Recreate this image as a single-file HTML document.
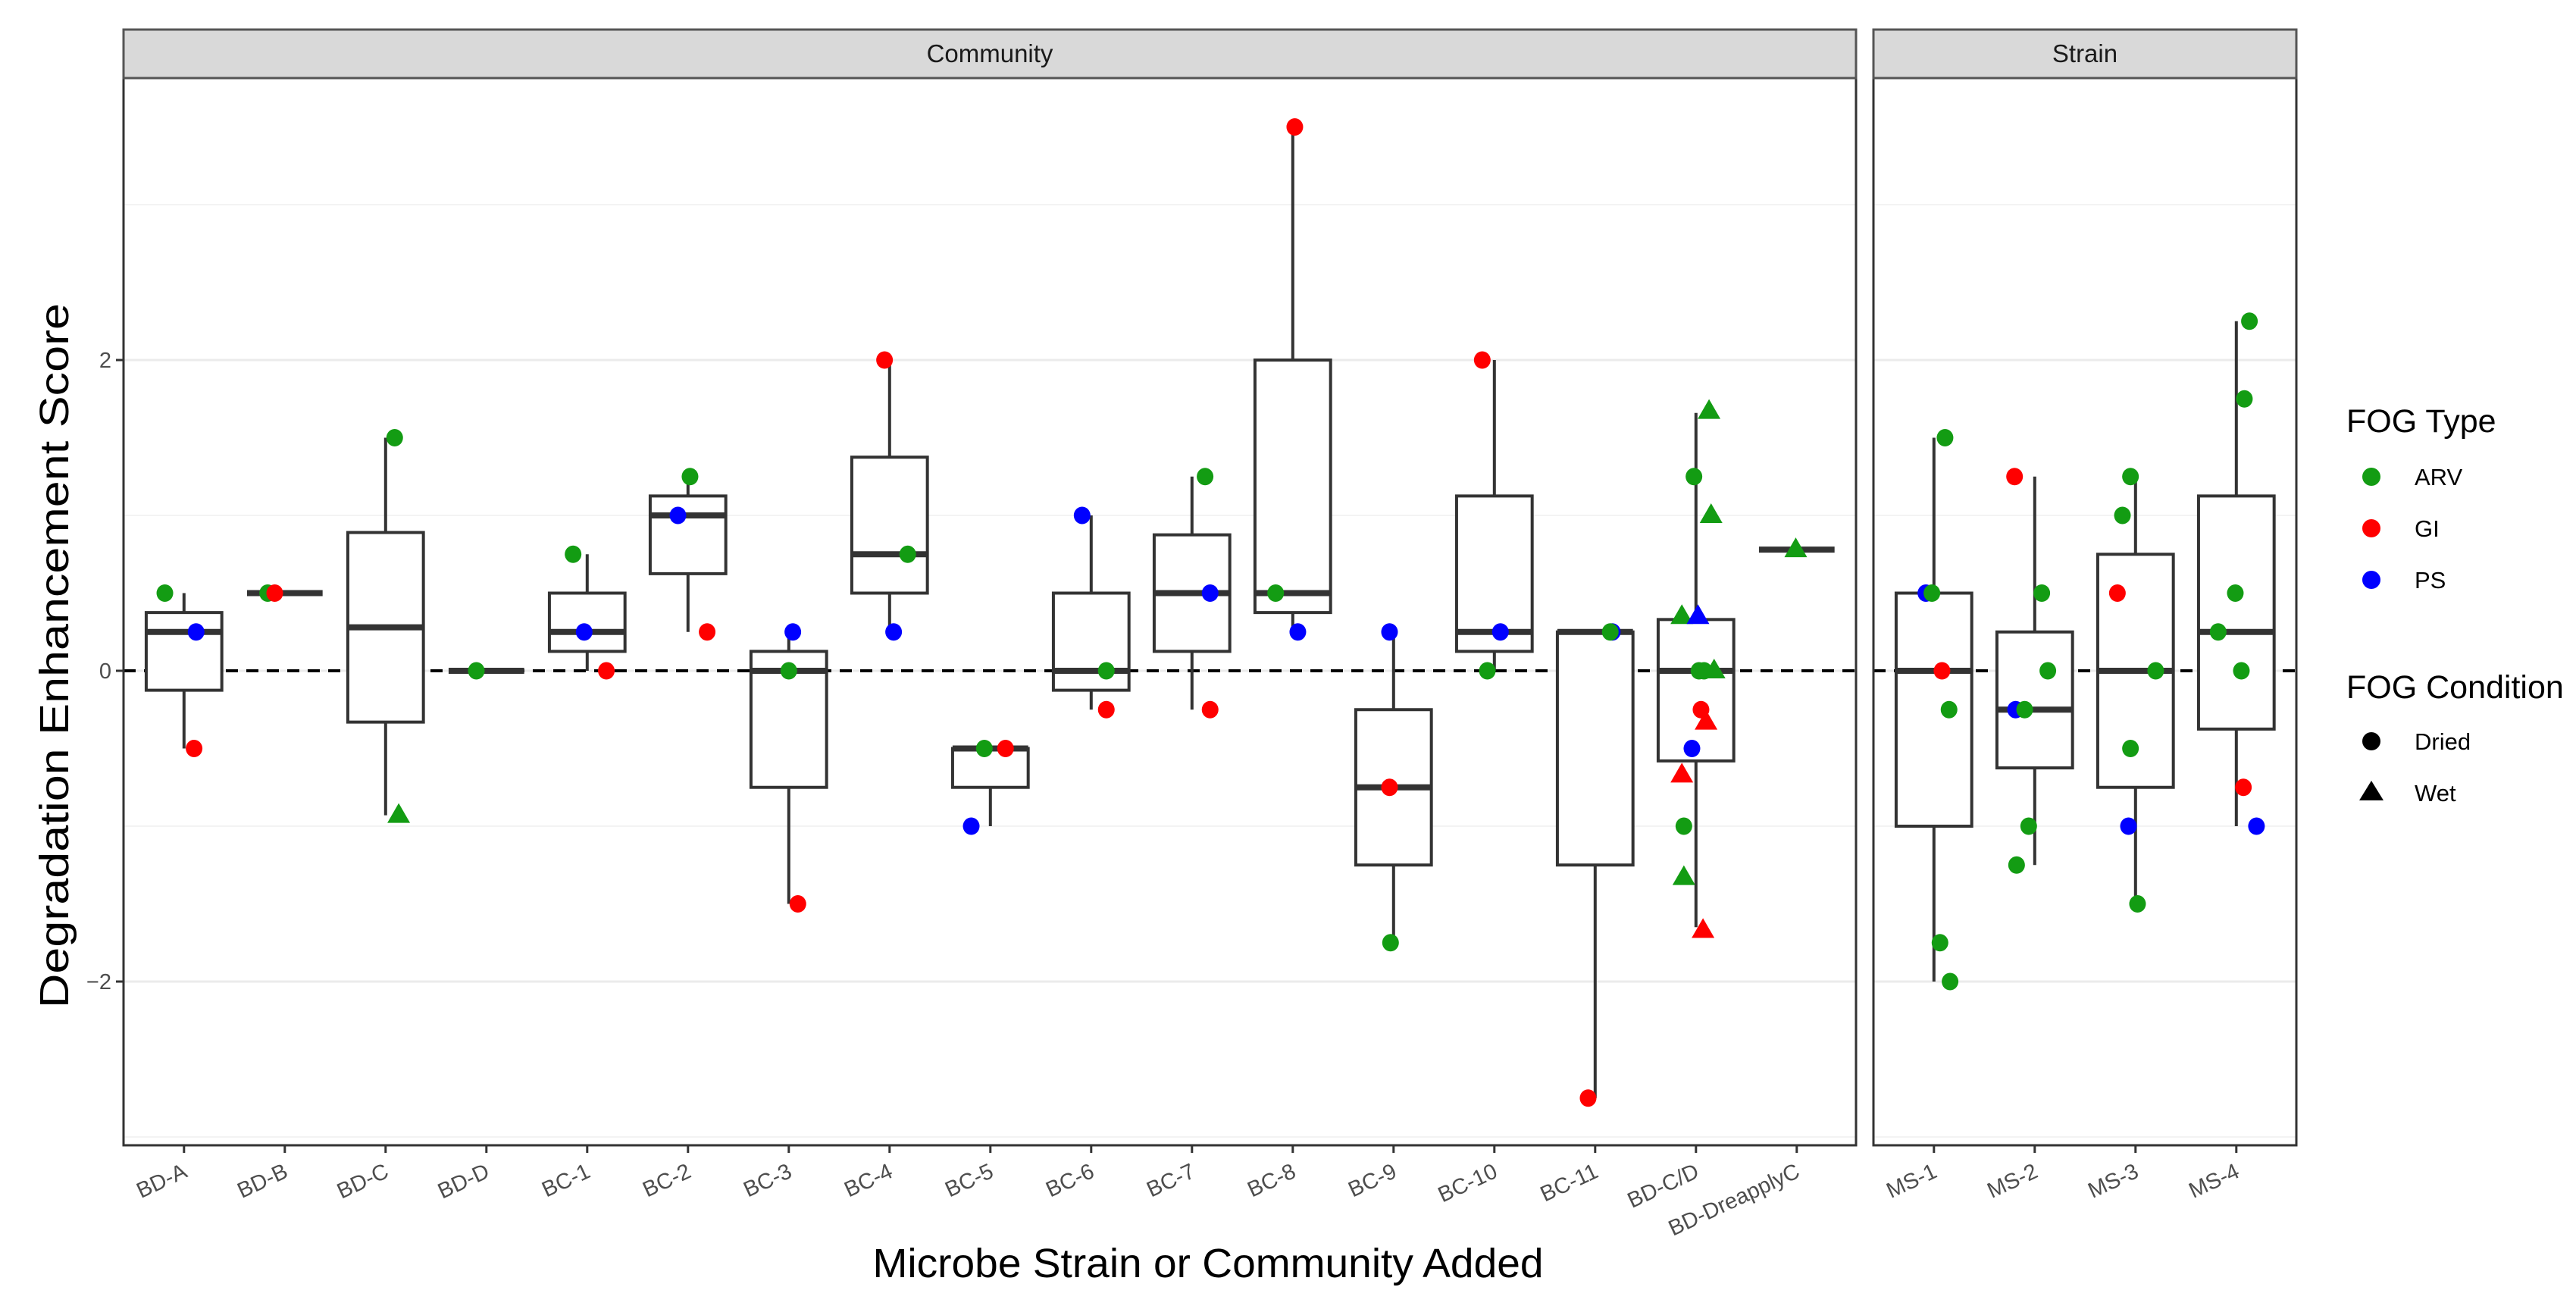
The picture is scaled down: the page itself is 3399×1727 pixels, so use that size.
<!DOCTYPE html>
<html><head><meta charset="utf-8"><style>
html,body{margin:0;padding:0;background:#fff;}
svg{display:block;font-family:"Liberation Sans",sans-serif;}
</style></head><body>
<svg id="chart" width="3399" height="1727" viewBox="0 0 3399 1727" xmlns="http://www.w3.org/2000/svg"></svg>
<script>
// ---------- data ----------
const commCats = ["BD-A","BD-B","BD-C","BD-D","BC-1","BC-2","BC-3","BC-4","BC-5","BC-6","BC-7","BC-8","BC-9","BC-10","BC-11","BD-C/D","BD-DreapplyC"];
const strainCats = ["MS-1","MS-2","MS-3","MS-4"];
const commQ1  = [-0.125,0.5,-0.33,0,0.125,0.625,-0.75,0.5,-0.75,-0.125,0.125,0.375,-1.25,0.125,-1.25,-0.58,0.78];
const commMed = [0.25,0.5,0.28,0,0.25,1.0,0,0.75,-0.5,0,0.5,0.5,-0.75,0.25,0.25,0,0.78];
const commQ3  = [0.375,0.5,0.89,0,0.5,1.125,0.125,1.375,-0.5,0.5,0.875,2.0,-0.25,1.125,0.25,0.33,0.78];
const commLo  = [-0.5,0.5,-0.93,0,0,0.25,-1.5,0.25,-1.0,-0.25,-0.25,0.25,-1.75,0,-2.75,-1.65,0.78];
const commHi  = [0.5,0.5,1.5,0,0.75,1.25,0.25,2.0,-0.5,1.0,1.25,3.5,0.25,2.0,0.25,1.66,0.78];
const strainQ1  = [-1.0,-0.625,-0.75,-0.375];
const strainMed = [0,-0.25,0,0.25];
const strainQ3  = [0.5,0.25,0.75,1.125];
const strainLo  = [-2.0,-1.25,-1.5,-1.0];
const strainHi  = [1.5,1.25,1.25,2.25];
// points: category index, jitter (category units), value, fog type, condition
const commPtCat = [0,0,0, 1,1, 2,2, 3, 4,4,4, 5,5,5, 6,6,6, 7,7,7, 8,8,8, 9,9,9, 10,10,10, 11,11,11, 12,12,12, 13,13,13, 14,14,14, 15,15,15,15,15,15,15,15,15,15,15,15,15,15,15, 16];
const commPtJit = [-0.19,0.12,0.1, -0.17,-0.1, 0.09,0.13, -0.1, -0.14,-0.03,0.19, 0.02,-0.1,0.19, 0.04,0,0.09, -0.05,0.18,0.04, -0.06,0.15,-0.19, -0.09,0.15,0.15, 0.13,0.18,0.18, 0.02,-0.17,0.05, -0.04,-0.04,-0.03, -0.12,0.06,-0.07, 0.17,0.15,-0.07, 0.13,-0.02,0.15,-0.14,0.02,0.03,0.18,0.08,0.05,0.1,-0.04,-0.14,-0.12,-0.12,0.07, -0.01];
const commPtVal = [0.5,0.25,-0.5, 0.5,0.5, 1.5,-0.93, 0, 0.75,0.25,0, 1.25,1.0,0.25, 0.25,0,-1.5, 2.0,0.75,0.25, -0.5,-0.5,-1.0, 1.0,0,-0.25, 1.25,0.5,-0.25, 3.5,0.5,0.25, 0.25,-0.75,-1.75, 2.0,0.25,0, 0.25,0.25,-2.75, 1.67,1.25,1.0,0.35,0.35,0,0,0,-0.25,-0.33,-0.5,-0.67,-1.0,-1.33,-1.67, 0.78];
const commPtType = ["ARV","PS","GI", "ARV","GI", "ARV","ARV", "ARV", "ARV","PS","GI", "ARV","PS","GI", "PS","ARV","GI", "GI","ARV","PS", "ARV","GI","PS", "PS","ARV","GI", "ARV","PS","GI", "GI","ARV","PS", "PS","GI","ARV", "GI","PS","ARV", "PS","ARV","GI", "ARV","ARV","ARV","ARV","PS","ARV","ARV","ARV","GI","GI","PS","GI","ARV","ARV","GI", "ARV"];
const commPtCond = ["D","D","D", "D","D", "D","W", "D", "D","D","D", "D","D","D", "D","D","D", "D","D","D", "D","D","D", "D","D","D", "D","D","D", "D","D","D", "D","D","D", "D","D","D", "D","D","D", "W","D","W","W","W","D","W","D","D","W","D","W","D","W","W", "W"];
const strainPtCat = [0,0,0,0,0,0,0, 1,1,1,1,1,1,1, 2,2,2,2,2,2,2, 3,3,3,3,3,3,3];
const strainPtJit = [-0.08,0.11,-0.02,0.08,0.15,0.06,0.16, -0.2,0.07,0.13,-0.19,-0.1,-0.06,-0.18, -0.05,-0.13,-0.18,0.2,-0.05,-0.07,0.02, 0.13,0.08,-0.01,-0.18,0.05,0.07,0.2];
const strainPtVal = [0.5,1.5,0.5,0,-0.25,-1.75,-2.0, 1.25,0.5,0,-0.25,-0.25,-1.0,-1.25, 1.25,1.0,0.5,0,-0.5,-1.0,-1.5, 2.25,1.75,0.5,0.25,0,-0.75,-1.0];
const strainPtType = ["PS","ARV","ARV","GI","ARV","ARV","ARV", "GI","ARV","ARV","PS","ARV","ARV","ARV", "ARV","ARV","GI","ARV","ARV","PS","ARV", "ARV","ARV","ARV","ARV","ARV","GI","PS"];
const yTicks = [-2,0,2];
const yMinor = [-3,-1,1,3];
const typeColors = {ARV:"#139c13",GI:"#ff0000",PS:"#0000ff"};

// ---------- layout ----------
const NS="http://www.w3.org/2000/svg";
const svg=document.getElementById('chart');
const top_=103, bot=1511, stripTop=39;
const unit=133;
const y0px=885, yUnit=205;
const yS=v=>y0px-v*yUnit;
function mk(tag,attrs,parent){const e=document.createElementNS(NS,tag);for(const k in attrs)e.setAttribute(k,attrs[k]);(parent||svg).appendChild(e);return e;}

function panel(name,x0,x1,cats,q1,med,q3,lo,hi,pc,pj,pv,pt,pd){
  const g=mk('g',{});
  
  
  const xS=i=>x0+unit*(0.6+i);
  yMinor.forEach(v=>{const l=mk('line',{x1:x0,x2:x1,y1:yS(v),y2:yS(v),stroke:'#f3f3f3','stroke-width':2},g);
    });
  yTicks.forEach(v=>{const l=mk('line',{x1:x0,x2:x1,y1:yS(v),y2:yS(v),stroke:'#ebebeb','stroke-width':3},g);
    });
  const z=mk('line',{x1:x0,x2:x1,y1:yS(0),y2:yS(0),stroke:'#000','stroke-width':4,'stroke-dasharray':'16 11'},g);
  
  cats.forEach((c,i)=>{
    const cx=xS(i), hw=unit*0.375;
    const bg=mk('g',{},g);
    
    mk('line',{x1:cx,x2:cx,y1:yS(hi[i]),y2:yS(q3[i]),stroke:'#333','stroke-width':4},bg);
    mk('line',{x1:cx,x2:cx,y1:yS(q1[i]),y2:yS(lo[i]),stroke:'#333','stroke-width':4},bg);
    mk('rect',{x:cx-hw,y:yS(q3[i]),width:2*hw,height:Math.max(0,yS(q1[i])-yS(q3[i])),fill:'#fff',stroke:'#333','stroke-width':4},bg);
    mk('line',{x1:cx-hw,x2:cx+hw,y1:yS(med[i]),y2:yS(med[i]),stroke:'#333','stroke-width':8},bg);
  });
  pv.forEach((v,k)=>{
    const cx=xS(pc[k])+pj[k]*unit, cy=yS(v), col=typeColors[pt[k]];
    let e;
    if(pd[k]==='W'){e=mk('polygon',{points:`${cx},${cy-16} ${cx-15},${cy+10} ${cx+15},${cy+10}`,fill:col},g);}
    else{e=mk('ellipse',{cx:cx,cy:cy,rx:11,ry:11.5,fill:col},g);}
    
    
  });
  const b=mk('rect',{x:x0,y:top_,width:x1-x0,height:bot-top_,fill:'none',stroke:'#333','stroke-width':3},g);
  
  const s=mk('rect',{x:x0,y:stripTop,width:x1-x0,height:top_-stripTop,fill:'#d9d9d9',stroke:'#555','stroke-width':3},g);
  
  const st=mk('text',{x:(x0+x1)/2,y:82,'text-anchor':'middle','font-size':33,fill:'#1a1a1a'},g);
  st.textContent=name.charAt(0).toUpperCase()+name.slice(1);
  
  cats.forEach((c,i)=>{
    const cx=xS(i);
    const t=mk('line',{x1:cx,x2:cx,y1:bot,y2:bot+10,stroke:'#333','stroke-width':3},g);
    
    const tx=mk('text',{x:cx+6,y:1552,'text-anchor':'end','font-size':29,fill:'#4d4d4d',transform:`rotate(-25 ${cx+6} 1552)`},g);
    tx.textContent=c;
    
  });
}
panel('community',163,2449,commCats,commQ1,commMed,commQ3,commLo,commHi,commPtCat,commPtJit,commPtVal,commPtType,commPtCond);
const sc=strainPtCat.map(()=> 'D');
panel('strain',2472,3030,strainCats,strainQ1,strainMed,strainQ3,strainLo,strainHi,strainPtCat,strainPtJit,strainPtVal,strainPtType,sc);

yTicks.forEach(v=>{
  const t=mk('line',{x1:153,x2:163,y1:yS(v),y2:yS(v),stroke:'#333','stroke-width':3});
  
  const tx=mk('text',{x:147,y:yS(v)+10,'text-anchor':'end','font-size':29,fill:'#4d4d4d'});
  tx.textContent=v<0?'\u2212'+Math.abs(v):String(v);
  
});
const yt=mk('text',{x:0,y:0,'text-anchor':'middle','font-size':54,fill:'#000',textLength:930,lengthAdjust:'spacingAndGlyphs',transform:'translate(90 865) rotate(-90)'});
yt.textContent='Degradation Enhancement Score';

const xt=mk('text',{x:1594,y:1685,'text-anchor':'middle','font-size':54,fill:'#000',textLength:885,lengthAdjust:'spacingAndGlyphs'});
xt.textContent='Microbe Strain or Community Added';


const lg=mk('g',{});

const lt1=mk('text',{x:3096,y:570,'font-size':43,fill:'#000'},lg);lt1.textContent='FOG Type';

const legTypes=["ARV","GI","PS"];
legTypes.forEach((t,i)=>{
  const y=629+i*68;
  const c=mk('ellipse',{cx:3129,cy:y,rx:12,ry:12,fill:typeColors[t]},lg);
  
  const tx=mk('text',{x:3186,y:y+11,'font-size':31,fill:'#000'},lg);tx.textContent=t;
  
});
const lt2=mk('text',{x:3096,y:921,'font-size':43,fill:'#000'},lg);lt2.textContent='FOG Condition';

const d=mk('ellipse',{cx:3129,cy:978,rx:12,ry:12,fill:'#000'},lg);

const dt=mk('text',{x:3186,y:989,'font-size':31,fill:'#000'},lg);dt.textContent='Dried';

const w=mk('polygon',{points:'3129,1030 3113,1056 3145,1056',fill:'#000'},lg);

const wt=mk('text',{x:3186,y:1057,'font-size':31,fill:'#000'},lg);wt.textContent='Wet';

</script>
</body></html>
